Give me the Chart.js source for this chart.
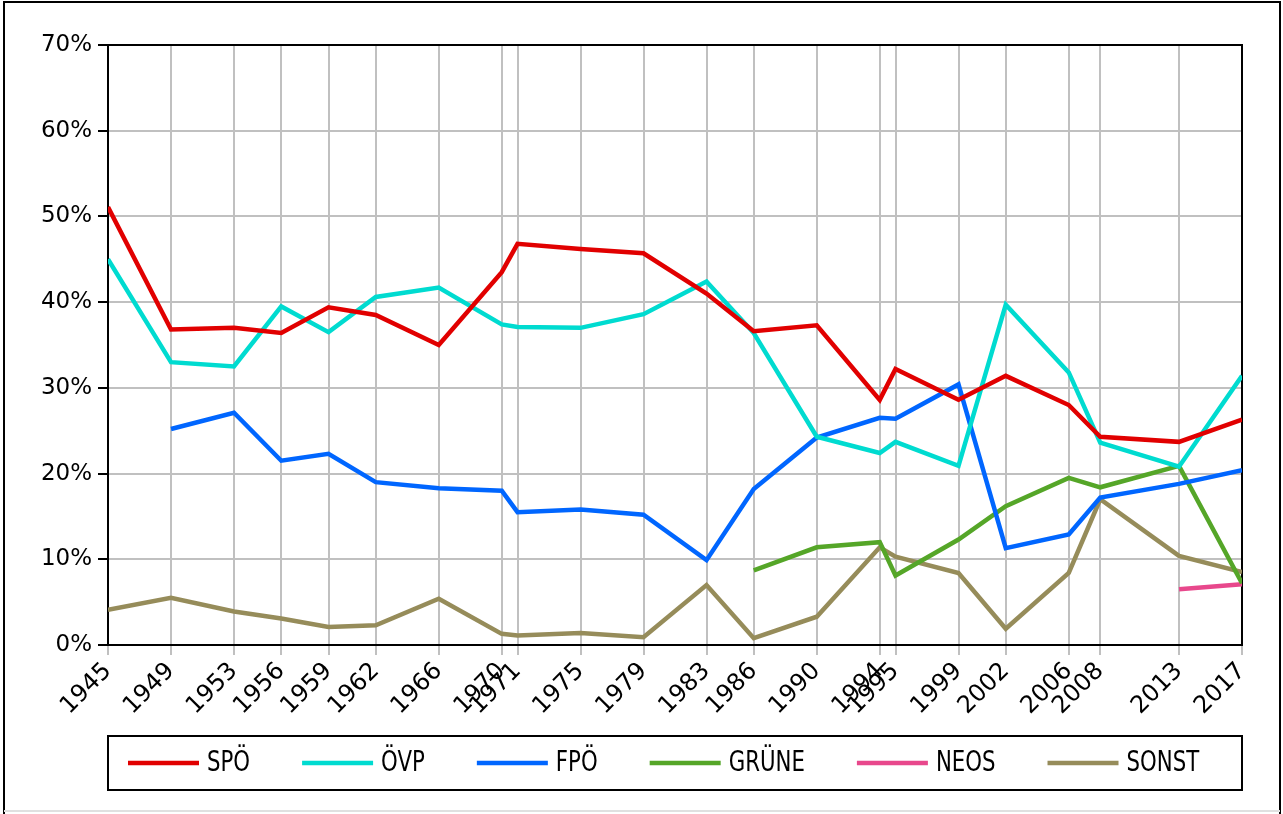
<!DOCTYPE html>
<html>
<head>
<meta charset="utf-8">
<script src="https://cdn.jsdelivr.net/npm/chart.js@4.4.1/dist/chart.umd.min.js"></script>
<style>
  html, body { margin: 0; padding: 0; background: #fff; }
  #wrap { width: 1283px; height: 814px; }
</style>
</head>
<body>
<div id="wrap"><canvas id="chart" width="1283" height="814"></canvas></div>
<script>
// election years (x positions are real years on a linear scale)
const years = [1945, 1949, 1953, 1956, 1959, 1962, 1966, 1970, 1971, 1975, 1979,
               1983, 1986, 1990, 1994, 1995, 1999, 2002, 2006, 2008, 2013, 2017];

const spoValues   = [51.1, 36.8, 37.0, 36.4, 39.4, 38.5, 35.0, 43.5, 46.8, 46.2, 45.7,
                     41.0, 36.6, 37.3, 28.6, 32.2, 28.6, 31.4, 28.0, 24.3, 23.7, 26.3];
const ovpValues   = [45.0, 33.0, 32.5, 39.5, 36.5, 40.6, 41.7, 37.4, 37.1, 37.0, 38.6,
                     42.4, 36.4, 24.3, 22.4, 23.7, 20.9, 39.7, 31.8, 23.6, 20.8, 31.4];
const fpoValues   = [null, 25.2, 27.1, 21.5, 22.3, 19.0, 18.3, 18.0, 15.5, 15.8, 15.2,
                     9.9, 18.2, 24.2, 26.5, 26.4, 30.4, 11.3, 12.9, 17.2, 18.8, 20.4];
const gruneValues = [null, null, null, null, null, null, null, null, null, null, null,
                     null, 8.7, 11.4, 12.0, 8.1, 12.3, 16.2, 19.5, 18.4, 20.9, 7.2];
const neosValues  = [null, null, null, null, null, null, null, null, null, null, null,
                     null, null, null, null, null, null, null, null, null, 6.5, 7.1];
const sonstValues = [4.1, 5.5, 3.9, 3.1, 2.1, 2.3, 5.4, 1.3, 1.1, 1.4, 0.9,
                     7.0, 0.8, 3.3, 11.4, 10.3, 8.4, 1.9, 8.4, 17.0, 10.4, 8.5];

const yTicks = [0, 10, 20, 30, 40, 50, 60, 70];

const series = [
  { label: 'SPÖ',   values: spoValues,   color: '#e10000' },
  { label: 'ÖVP',   values: ovpValues,   color: '#00dbd0' },
  { label: 'FPÖ',   values: fpoValues,   color: '#0066ff' },
  { label: 'GRÜNE', values: gruneValues, color: '#55a628' },
  { label: 'NEOS',  values: neosValues,  color: '#e8488c' },
  { label: 'SONST', values: sonstValues, color: '#968c5a' }
];

const GRID = '#c0c0c0';
const FONT = 'DejaVu Sans';

// white background + outer frame
const framePlugin = {
  id: 'frame',
  beforeDraw(chart) {
    const ctx = chart.ctx;
    ctx.save();
    ctx.fillStyle = '#fff';
    ctx.fillRect(0, 0, chart.width, chart.height);
    ctx.strokeStyle = '#000';
    ctx.lineWidth = 2;
    ctx.beginPath();
    ctx.moveTo(4, 814);
    ctx.lineTo(4, 2);
    ctx.lineTo(1280, 2);
    ctx.lineTo(1280, 814);
    ctx.stroke();
    ctx.strokeStyle = '#e0e0e0';
    ctx.beginPath();
    ctx.moveTo(4, 811);
    ctx.lineTo(1280, 811);
    ctx.stroke();
    ctx.restore();
  },
  beforeDatasetsDraw(chart) {
    // black box round the plot area
    const a = chart.chartArea;
    const ctx = chart.ctx;
    ctx.save();
    ctx.strokeStyle = '#000';
    ctx.lineWidth = 2;
    ctx.strokeRect(a.left, a.top, a.right - a.left, a.bottom - a.top);
    ctx.restore();
  }
};

// boxed legend under the chart
const boxLegend = {
  id: 'boxLegend',
  afterDraw(chart) {
    const ctx = chart.ctx;
    const a = chart.chartArea;
    const top = 736, bottom = 790;
    const cy = (top + bottom) / 2;
    ctx.save();
    ctx.strokeStyle = '#000';
    ctx.lineWidth = 2;
    ctx.strokeRect(a.left, top, a.right - a.left, bottom - top);

    const squeeze = 0.76;
    ctx.font = '28px ' + FONT;
    ctx.textBaseline = 'middle';
    ctx.fillStyle = '#000';
    let x = a.left + 20;
    chart.data.datasets.forEach(ds => {
      ctx.strokeStyle = ds.borderColor;
      ctx.lineWidth = 4.5;
      ctx.beginPath();
      ctx.moveTo(x, cy);
      ctx.lineTo(x + 71, cy);
      ctx.stroke();
      x += 79;
      ctx.save();
      ctx.translate(x, cy + 1);
      ctx.scale(squeeze, 1);
      ctx.fillText(ds.label, 0, 0);
      ctx.restore();
      x += ctx.measureText(ds.label).width * squeeze + 52;
    });
    ctx.restore();
  }
};

const ctx = document.getElementById('chart').getContext('2d');

new Chart(ctx, {
  type: 'line',
  data: {
    datasets: series.map(s => ({
      label: s.label,
      data: years.map((yr, i) => ({ x: yr, y: s.values[i] })),
      borderColor: s.color,
      backgroundColor: s.color,
      borderWidth: 4.5,
      pointRadius: 0,
      tension: 0,
      spanGaps: false,
      fill: false
    }))
  },
  options: {
    responsive: false,
    animation: false,
    layout: { padding: { top: 45, right: 41, bottom: 89, left: 0 } },
    plugins: {
      legend: { display: false },
      tooltip: { enabled: false }
    },
    scales: {
      x: {
        type: 'linear',
        min: years[0],
        max: years[years.length - 1],
        afterBuildTicks(scale) {
          scale.ticks = years.map(v => ({ value: v }));
        },
        afterFit(scale) { scale.height = 80; },
        ticks: {
          autoSkip: false,
          maxRotation: 45,
          minRotation: 45,
          padding: 2,
          color: '#000',
          font: { family: FONT, size: 24 },
          callback: v => String(v)
        },
        grid: { color: GRID, lineWidth: 2, tickLength: 10, tickColor: GRID },
        border: { color: '#000', width: 2 }
      },
      y: {
        min: 0,
        max: 70,
        afterBuildTicks(scale) {
          scale.ticks = yTicks.map(v => ({ value: v }));
        },
        afterFit(scale) { scale.width = 108; },
        ticks: {
          padding: 6,
          color: '#000',
          font: { family: FONT, size: 23 },
          callback: v => v + '%'
        },
        grid: { color: GRID, lineWidth: 2, tickLength: 10, tickColor: '#000' },
        border: { color: '#000', width: 2 }
      }
    }
  },
  plugins: [framePlugin, boxLegend]
});
</script>
</body>
</html>
